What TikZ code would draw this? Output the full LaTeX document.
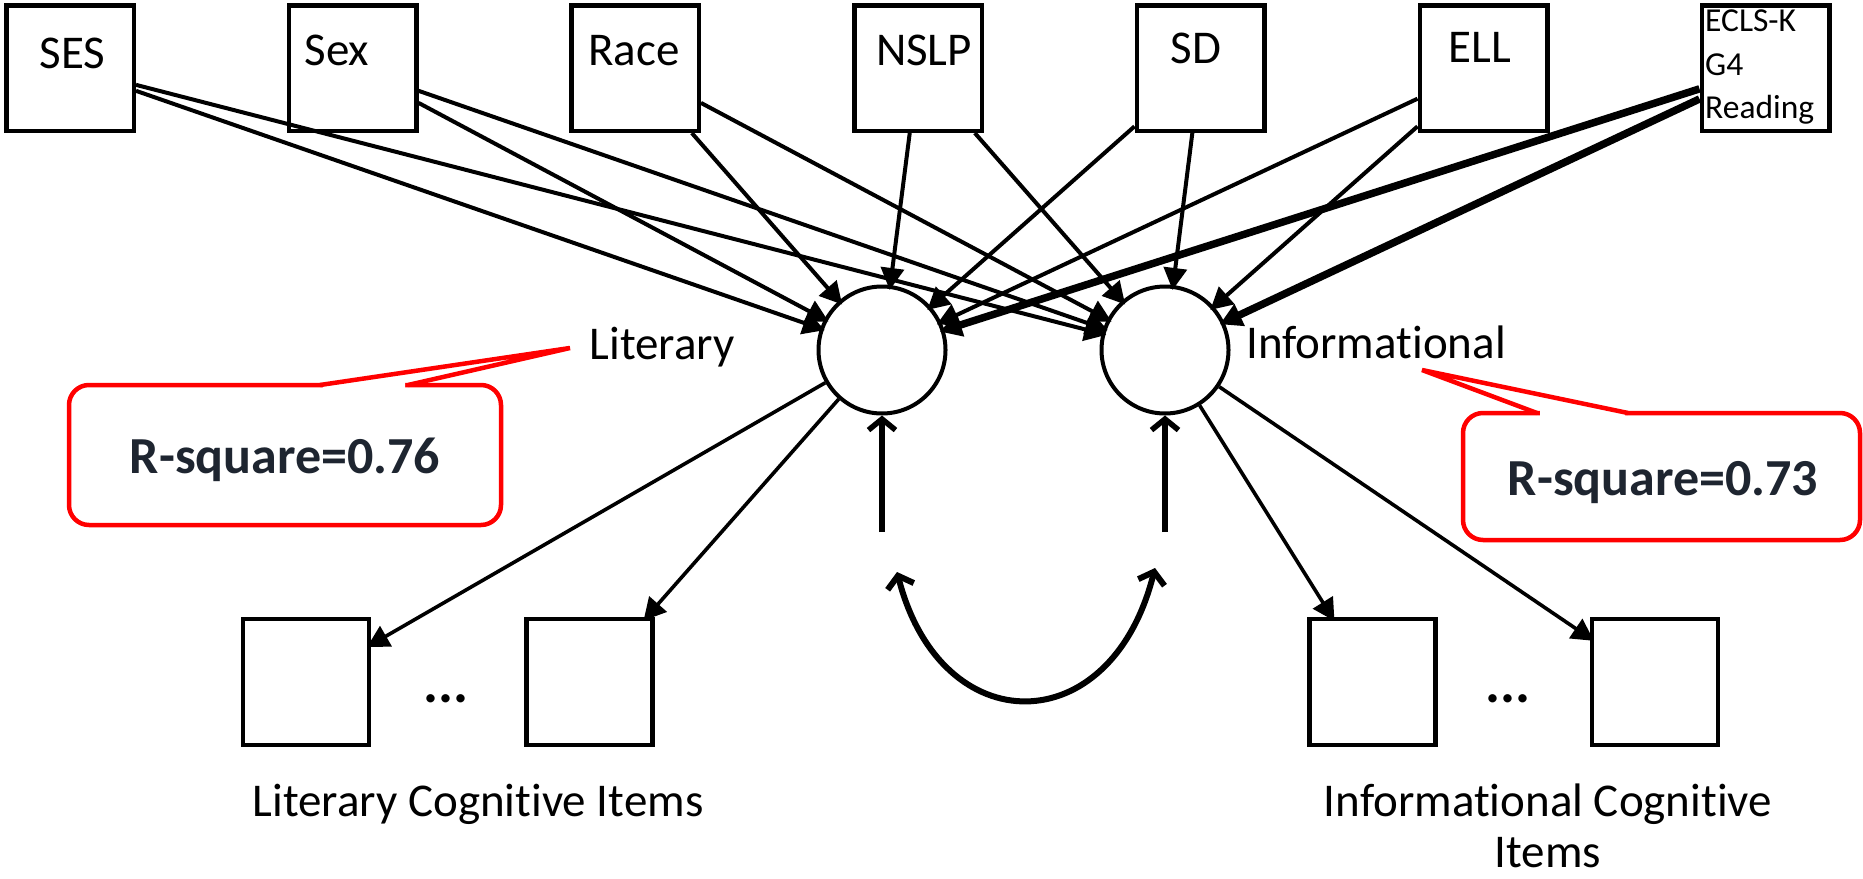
\documentclass[tikz,border=0pt]{standalone}
\usepackage{fontspec}
\setmainfont{Carlito}[Ligatures=NoCommon]
\usetikzlibrary{arrows.meta}
\definecolor{calred}{HTML}{FF0000}
\definecolor{rtext}{HTML}{1E2530}
\begin{document}
\begin{tikzpicture}[x=1pt,y=-1pt,
  box/.style={draw, line width=4.5pt, minimum width=127.5pt, minimum height=125.5pt, inner sep=0pt},
  lat/.style={draw, circle, line width=4pt, minimum size=127pt, inner sep=0pt},
  item/.style={draw, line width=4.5pt, minimum width=126pt, minimum height=126pt, inner sep=0pt},
  lbl/.style={font=\fontsize{47}{62.6}\selectfont, inner sep=0pt},
  smalllbl/.style={font=\fontsize{33.5}{43.5}\selectfont, inner sep=0pt, align=left},
  rsq/.style={font=\fontsize{52}{60}\selectfont\bfseries, text=rtext, inner sep=0pt},
  callbox/.style={draw=calred, line width=4.5pt, rounded corners=20pt, inner sep=0pt},
  pointer/.style={draw=calred, line width=4.5pt, line join=miter},
  arr/.style={line width=4pt, -{Triangle[length=22pt,width=23pt]}, shorten >=-5pt},
  tharr/.style={arr, line width=7.5pt},
  res/.style={line width=5.5pt, -{Straight Barb[length=11pt,width=27pt]}},
  dots/.style={font=\fontsize{56}{60}\selectfont\bfseries, inner sep=0pt}
]
\fill[white] (0,0) rectangle (1863,878);
\useasboundingbox (0,0) rectangle (1863,878);

% exogenous boxes
\node[box] (ses)  at (70,68) {};
\node[box] (sex)  at (352.6,68) {};
\node[box] (race) at (635,68) {};
\node[box] (nslp) at (918,68) {};
\node[box] (sd)   at (1200.5,68) {};
\node[box] (ell)  at (1483.5,68) {};
\node[box] (ecls) at (1765.5,68) {};
\node[lbl, anchor=base] (sest)  at (72.5,68) {SES};
\node[lbl, anchor=base] (sext)  at (337,65) {Sex};
\node[lbl, anchor=base] (racet) at (634,65) {Race};
\node[lbl, anchor=base] (nslpt) at (924,65) {NSLP};
\node[lbl, anchor=base] (sdt)   at (1196,63) {SD};
\node[lbl, anchor=base] (ellt)  at (1480,62) {ELL};
\node[smalllbl, anchor=north west] (eclst) at (1705,10) {ECLS-K\\G4\\Reading};

% latent factors
\node[lat] (lit) at (882,350) {};
\node[lat] (inf) at (1165,350) {};
\node[lbl, anchor=base] (litl) at (662,359) {Literary};
\node[lbl, anchor=base] (infl) at (1376,358) {Informational};

% items
\node[item] (b1) at (306,682) {};
\node[item] (b2) at (589.5,682) {};
\node[item] (b3) at (1372.5,682) {};
\node[item] (b4) at (1655,682) {};
\node[dots, anchor=base] (d1) at (446,702) {...};
\node[dots, anchor=base] (d2) at (1508,702) {...};
\node[lbl, anchor=base] (litci) at (478,816) {Literary Cognitive Items};
\node[lbl, anchor=base] (infci1) at (1548,816) {Informational Cognitive};
\node[lbl, anchor=base] (infci2) at (1548,867) {Items};

% structural paths
\draw[arr] (ses) -- (lit);
\draw[arr] (ses) -- (inf);
\draw[arr] (sex) -- (lit);
\draw[arr] (sex) -- (inf);
\draw[arr] (race) -- (lit);
\draw[arr] (race) -- (inf);
\draw[arr] (nslp) -- (lit);
\draw[arr] (nslp) -- (inf);
\draw[arr] (sd) -- (lit);
\draw[arr] (sd) -- (inf);
\draw[arr] (ell) -- (lit);
\draw[arr] (ell) -- (inf);
\draw[tharr] (ecls) -- (lit);
\draw[tharr] (ecls) -- (inf);

% measurement paths
\draw[arr, line width=3.6pt] (lit) -- (b1);
\draw[arr, line width=3.6pt] (lit) -- (b2);
\draw[arr, line width=3.6pt] (inf) -- (b3);
\draw[arr, line width=3.6pt] (inf) -- (b4);

% residuals
\coordinate (e1) at (882,532);
\coordinate (e2) at (1165,532);
\draw[res] (e1) -- (lit);
\draw[res] (e2) -- (inf);
\coordinate (c1) at (897,572);
\coordinate (c2) at (1155,568);
\draw[line width=6pt, {Straight Barb[length=11pt,width=27pt]}-{Straight Barb[length=11pt,width=27pt]}]
  (c1) .. controls (941,743) and (1111,743) .. (c2);

% callouts
\node[callbox, minimum width=432pt, minimum height=140pt] (r1) at (285,455) {};
\fill[white] (323,391) -- (323,381) -- (560,351) -- (405,381) -- (405,391) -- cycle;
\draw[pointer] (320,385) -- (570,348) -- (408,385);
\node[rsq, anchor=base] (r1t) at (285,473) {R-square=0.76};

\node[callbox, minimum width=397pt, minimum height=127pt] (r2) at (1661.5,476.5) {};
\fill[white] (1540,419) -- (1540,409) -- (1432,374) -- (1625,409) -- (1625,419) -- cycle;
\draw[pointer] (1537,413) -- (1422,370) -- (1628,413);
\node[rsq, anchor=base] (r2t) at (1663,495) {R-square=0.73};
\end{tikzpicture}
\end{document}
